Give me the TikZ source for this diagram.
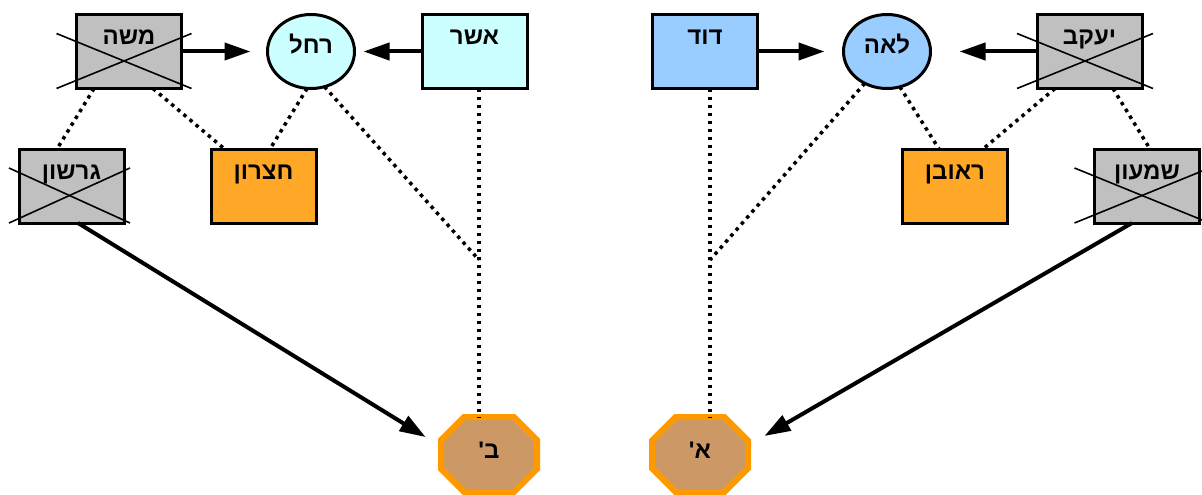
\documentclass[tikz,border=0pt]{standalone}
\usepackage{fontspec}
\newfontfamily\heb[Script=Hebrew]{Liberation Sans}
\TeXXeTstate=1
\usetikzlibrary{arrows.meta,shapes.misc,shapes.geometric,calc}
\definecolor{boxgray}{HTML}{C0C0C0}
\definecolor{lightcyan}{HTML}{CCFFFF}
\definecolor{lightblue}{HTML}{99CCFF}
\definecolor{boxorange}{HTML}{FFA726}
\definecolor{octfill}{HTML}{CC9966}
\definecolor{octborder}{HTML}{FF9900}
\newcommand\hb[1]{\beginR #1\endR}
\tikzset{
  base/.style={draw=black, line width=3pt, font=\heb\bfseries\fontsize{24}{24}\selectfont, inner sep=0pt, outer sep=0pt},
  personbox/.style={base, rectangle, minimum width=105pt, minimum height=74pt, text height=16pt, text depth=29pt},
  personell/.style={base, ellipse, minimum width=87pt, minimum height=74pt, text height=16pt, text depth=11pt},
  grp/.style={chamfered rectangle, chamfered rectangle xsep=22pt, chamfered rectangle ysep=22pt,
    fill=octfill, draw=octborder, line width=6pt, minimum width=96pt, minimum height=75pt,
    inner sep=0pt, outer sep=0pt, text height=16pt, text depth=9pt, font=\heb\bfseries\fontsize{24}{24}\selectfont},
  crossline/.style={line width=1.6pt},
  kinship/.style={line width=3.5pt, dash pattern=on 3.5pt off 4.5pt},
  arr/.style={line width=4pt, -{Triangle[length=26pt,width=17pt]}}
}
\begin{document}
\begin{tikzpicture}[x=1pt,y=-1pt]
\useasboundingbox (0,0) rectangle (1202,495);
% left group
\node[personbox, fill=boxgray] (moshe) at (129,51.5) {\hb{משה}};
\node[personell, fill=lightcyan] (rachel) at (311,51.5) {\hb{רחל}};
\node[personbox, fill=lightcyan] (asher) at (474.5,51.5) {\hb{אשר}};
\node[personbox, fill=boxgray] (gershon) at (71.5,186) {\hb{גרשון}};
\node[personbox, fill=boxorange] (hetzron) at (263.5,186) {\hb{חצרון}};
% right group
\node[personbox, fill=lightblue] (david) at (705,51.5) {\hb{דוד}};
\node[personell, fill=lightblue] (leah) at (887,51.5) {\hb{לאה}};
\node[personbox, fill=boxgray] (yaakov) at (1089.5,51.5) {\hb{יעקב}};
\node[personbox, fill=boxorange] (reuven) at (955,186) {\hb{ראובן}};
\node[personbox, fill=boxgray] (shimon) at (1147,186) {\hb{שמעון}};
% groups
\node[grp] (bet) at (489,454.5) {\hb{ב'}};
\node[grp] (alef) at (700,454.5) {\hb{א'}};
\coordinate (jb) at (479,260);
\coordinate (ja) at (710,260);
% crosses
\foreach \n/\l/\r in {moshe/20/10, gershon/10/6, yaakov/20/11, shimon/20/10}{
  \draw[crossline] ([shift={(-\l,19)}]\n.north west) -- ([shift={(\r,0)}]\n.south east);
  \draw[crossline] ([shift={(-\l,0)}]\n.south west) -- ([shift={(\r,19)}]\n.north east);
}
% arrows
\draw[arr, shorten >=17pt] (moshe.east) -- (rachel.west);
\draw[arr, shorten >=9pt] (asher.west) -- (rachel.east);
\draw[arr, shorten >=19pt] (david.east) -- (leah.west);
\draw[arr, shorten >=29pt] (yaakov.west) -- (leah.east);
\draw[arr, shorten >=18pt] ([xshift=6.5pt]gershon.south) -- ([yshift=8pt]bet.west);
\draw[arr, shorten >=19pt] ([xshift=-15pt]shimon.south) -- ([yshift=9pt]alef.east);
% kinship lines
\draw[kinship] ([xshift=-35pt]moshe.south) -- ([xshift=-14.5pt]gershon.north);
\draw[kinship] ([xshift=24pt]moshe.south) -- ([xshift=-39pt]hetzron.north);
\draw[kinship] (rachel.-96) -- ([xshift=6.5pt]hetzron.north);
\draw[kinship] (rachel.-69) -- (jb);
\draw[kinship] (asher.south -| jb) -- (jb) -- (jb |- bet.north);
\draw[kinship] (david.south -| ja) -- (ja) -- (ja |- alef.north);
\draw[kinship] (leah.-125) -- (ja);
\draw[kinship] (leah.-70) -- ([xshift=-16pt]reuven.north);
\draw[kinship] ([xshift=-34.5pt]yaakov.south) -- ([xshift=28pt]reuven.north);
\draw[kinship] ([xshift=23.5pt]yaakov.south) -- ([xshift=3pt]shimon.north);
\end{tikzpicture}
\end{document}
